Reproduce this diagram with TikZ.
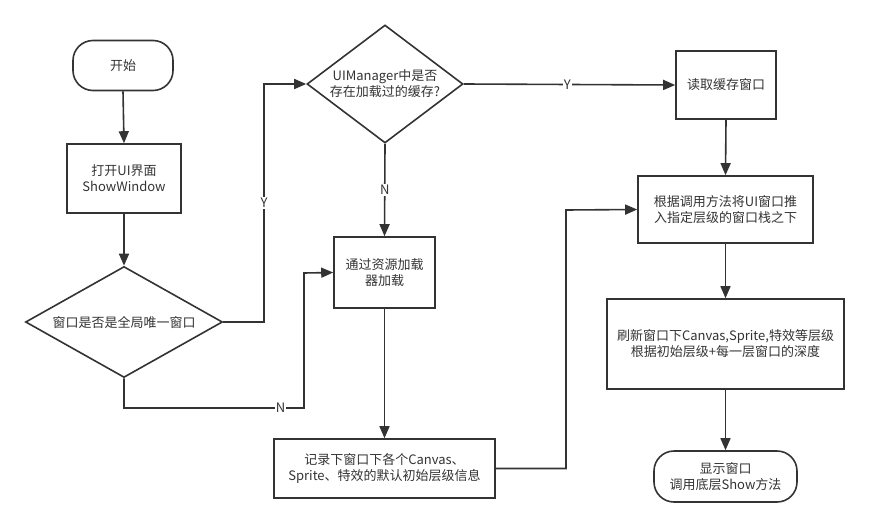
\documentclass[tikz,border=0pt]{standalone}
\usepackage{fontspec}
\setmainfont{Noto Sans CJK SC}
\usetikzlibrary{shapes.geometric,arrows.meta}
\definecolor{ink}{HTML}{333333}
\begin{document}
\begin{tikzpicture}[x=1pt,y=-1pt,
  every node/.style={font=\fontsize{13}{16}\selectfont, text=ink, align=center, inner sep=0pt},
  box/.style={draw=ink, line width=1.6pt, rectangle},
  term/.style={draw=ink, line width=1.6pt, rectangle, rounded corners=20pt},
  dec/.style={draw=ink, line width=1.6pt, diamond},
  conn/.style={draw=ink, line width=1.6pt, -{Triangle[length=12pt,width=10pt]}},
  lbl/.style={fill=white, inner sep=1pt}]
\useasboundingbox (0,0) rectangle (869,527);
\node[term, minimum width=100pt, minimum height=50pt] (start) at (123,65.5) {开始};
\node[box, minimum width=114pt, minimum height=69pt] (show) at (124,178.5) {打开UI界面\\ShowWindow};
\node[dec, minimum width=197pt, minimum height=111pt,
      label={[align=center]center:窗口是否是全局唯一窗口}] (d1) at (124,322) {};
\node[dec, minimum width=156pt, minimum height=118pt,
      label={[align=center]center:UIManager中是否\\存在加载过的缓存?}] (d2) at (385,84) {};
\node[box, minimum width=101pt, minimum height=71pt] (load) at (384.5,272.5) {通过资源加载\\器加载};
\node[box, minimum width=221pt, minimum height=59pt] (record) at (384.5,468.5) {记录下窗口下各个Canvas、\\Sprite、特效的默认初始层级信息};
\node[box, minimum width=100pt, minimum height=68pt] (read) at (726,85) {读取缓存窗口};
\node[box, minimum width=175pt, minimum height=67pt] (push) at (725.5,209.5) {根据调用方法将UI窗口推\\入指定层级的窗口栈之下};
\node[box, minimum width=237pt, minimum height=90pt] (refresh) at (725.5,344) {刷新窗口下Canvas,Sprite,特效等层级\\根据初始层级+每一层窗口的深度};
\node[term, minimum width=143pt, minimum height=51pt] (end) at (725.5,476.5) {显示窗口\\调用底层Show方法};

\draw[conn] (start.south) -- (show.north);
\draw[conn] (show.south) -- (d1.north);
\draw[conn] (d1.east) -- (264,322) -- node[lbl, pos=0.5] {Y} (264,84) -- (d2.west);
\draw[conn] (d2.south) -- node[lbl] {N} (load.north);
\draw[conn] (d1.south) -- (124,408) -- node[lbl, pos=0.87] {N} (304,408) -- (304,273) -- (load.west);
\draw[conn] (load.south) -- (record.north);
\draw[conn] (record.east) -- (566,468.5) -- (566,210) -- (push.west);
\draw[conn] (d2.east) -- node[lbl, pos=0.49] {Y} (read.west);
\draw[conn] (read.south) -- (push.north);
\draw[conn] (push.south) -- (refresh.north);
\draw[conn] (refresh.south) -- (end.north);
\end{tikzpicture}
\end{document}
